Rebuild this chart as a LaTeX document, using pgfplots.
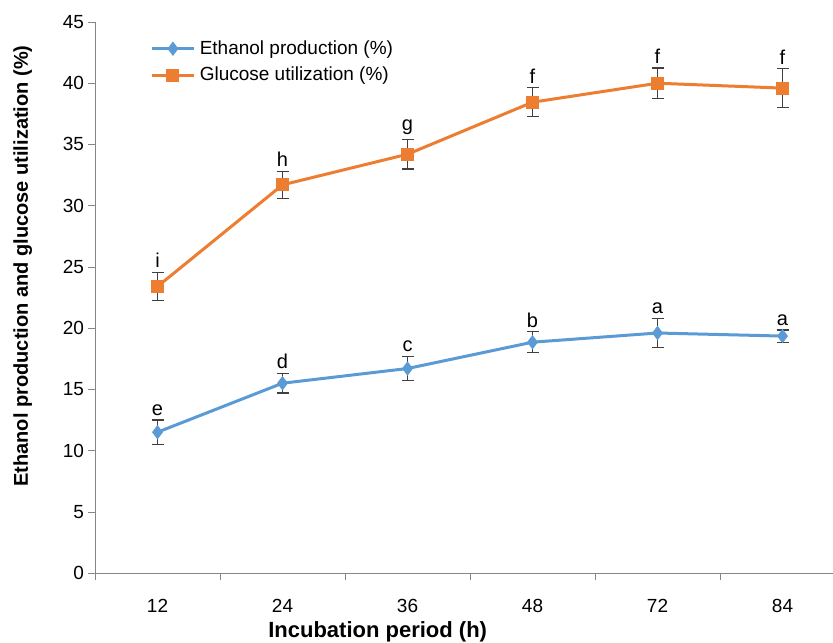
\documentclass[border=0pt]{standalone}
\usepackage{pgfplots}
\pgfplotsset{compat=1.18}
\usepackage{fontspec}
\setmainfont{Liberation Sans}
\definecolor{eblue}{HTML}{5B9BD5}
\definecolor{gorange}{HTML}{ED7D31}
\definecolor{axgray}{HTML}{868686}
\begin{document}
\begin{tikzpicture}[x=0.5pt,y=0.5pt]
\useasboundingbox (0,0) rectangle (833,642);
\begin{axis}[
  at={(78.75pt,34.5pt)}, anchor=origin,
  scale only axis,
  width=369pt, height=275.5pt,
  xmin=-0.5, xmax=5.404,
  ymin=0, ymax=45,
  axis lines=left,
  axis line style={-, draw=axgray},
  xtick={0,1,2,3,4,5},
  xticklabels={12,24,36,48,72,84},
  minor xtick={-0.5,0.5,1.5,2.5,3.5,4.5},
  major x tick style={draw=none},
  minor x tick style={draw=axgray},
  ytick={0,5,...,45},
  y tick style={draw=axgray},
  tick align=outside,
  major tick length=3.5pt,
  minor tick length=3.5pt,
  tick label style={font=\fontsize{9.5}{11}\selectfont},
  /pgf/number format/assume math mode=true,
  xticklabel style={yshift=-6pt},
  yticklabel style={xshift=1.5pt},
  xlabel={\textbf{Incubation period (h)}},
  ylabel={\textbf{Ethanol production and glucose utilization (\%)}},
  label style={font=\fontsize{10}{12}\selectfont},
  xlabel style={at={(ticklabel cs:0.383)}, font=\fontsize{11}{13}\selectfont, yshift=2.5pt},
  ylabel style={at={(ticklabel cs:0.557)}, yshift=8.5pt},
  legend style={draw=none, fill=none, at={(0.066,0.982)}, anchor=north west,
    font=\fontsize{9.5}{11}\selectfont, row sep=1pt,
    legend cell align=left},
  legend image code/.code={
    \draw[#1] (0cm,0cm) -- (0.75cm,0cm);
    \draw[#1, only marks] plot coordinates {(0.375cm,0cm)};
  },
  clip=false,
]
\addplot[eblue, line width=1.5pt, mark=diamond*, mark size=3.2pt,
  mark options={fill=eblue, draw=eblue, line width=0.5pt},
  error bars/.cd, y dir=both, y explicit,
  error bar style={black!75, line width=0.6pt},
  error mark options={rotate=90, mark size=3pt, black!75, line width=0.6pt}]
  coordinates {
  (0,11.5) +- (0,1.0)
  (1,15.5) +- (0,0.8)
  (2,16.7) +- (0,1.0)
  (3,18.85) +- (0,0.85)
  (4,19.6) +- (0,1.2)
  (5,19.35) +- (0,0.5)
  };
\addlegendentry{Ethanol production (\%)}
\addplot[gorange, line width=1.5pt, mark=square*, mark size=3pt,
  mark options={fill=gorange, draw=gorange, line width=0.5pt},
  error bars/.cd, y dir=both, y explicit,
  error bar style={black!75, line width=0.6pt},
  error mark options={rotate=90, mark size=3pt, black!75, line width=0.6pt}]
  coordinates {
  (0,23.4) +- (0,1.15)
  (1,31.7) +- (0,1.1)
  (2,34.2) +- (0,1.2)
  (3,38.45) +- (0,1.2)
  (4,40.0) +- (0,1.25)
  (5,39.6) +- (0,1.6)
  };
\addlegendentry{Glucose utilization (\%)}
\addplot[draw=none, forget plot, nodes near coords, point meta=explicit symbolic,
  nodes near coords align={above},
  every node near coord/.append style={font=\fontsize{10}{12}\selectfont, black, inner sep=2pt}]
  coordinates {
  (0,12.5)[e] (1,16.3)[d] (2,17.7)[c] (3,19.7)[b] (4,20.8)[a] (5,19.85)[a]
  (0,24.55)[i] (1,32.8)[h] (2,35.4)[g] (3,39.65)[f] (4,41.25)[f] (5,41.2)[f]
  };
\end{axis}
\end{tikzpicture}
\end{document}
